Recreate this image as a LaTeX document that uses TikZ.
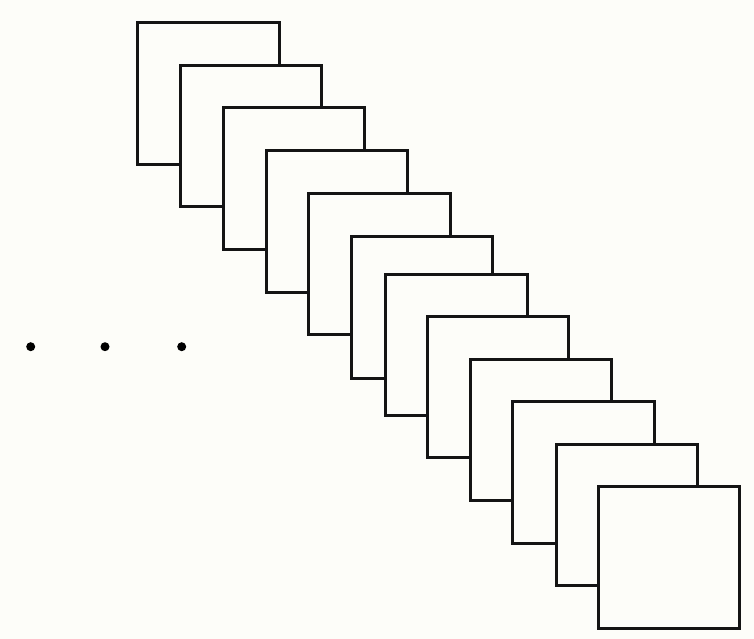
\documentclass[tikz,border=0pt]{standalone}
\usepackage{tikz}
\usepackage{xcolor}
\definecolor{fondo}{RGB}{253,253,249}
\definecolor{trazo}{RGB}{20,20,20}

\begin{document}
\begin{tikzpicture}[x=1pt,y=-1pt,
  marco/.style={rectangle, draw=trazo, line width=3pt, fill=fondo,
                inner sep=0pt, outer sep=0pt, minimum width=141.5pt,
                minimum height=141.5pt, anchor=north west},
  punto/.style={circle, fill=black, inner sep=0pt, minimum size=9pt}]

\useasboundingbox[fill=fondo] (0,0) rectangle (754,639);

% pila de marcos, de atras hacia adelante
\foreach \px/\py [count=\i] in {137.5/22.7, 180.3/65.3, 223.3/107.7,
    266/150.7, 308.7/193.3, 351.3/236.7, 385.5/274, 427/316,
    470/359, 512.7/401.7, 556/444.3, 598.3/486.7}
  \node[marco] (m\i) at (\px,\py) {};

% puntos suspensivos
\node[punto] (p1) at (30.7,346.7) {};
\node[punto] (p2) at (105,346.7) {};
\node[punto] (p3) at (181.7,346.7) {};

\end{tikzpicture}
\end{document}
